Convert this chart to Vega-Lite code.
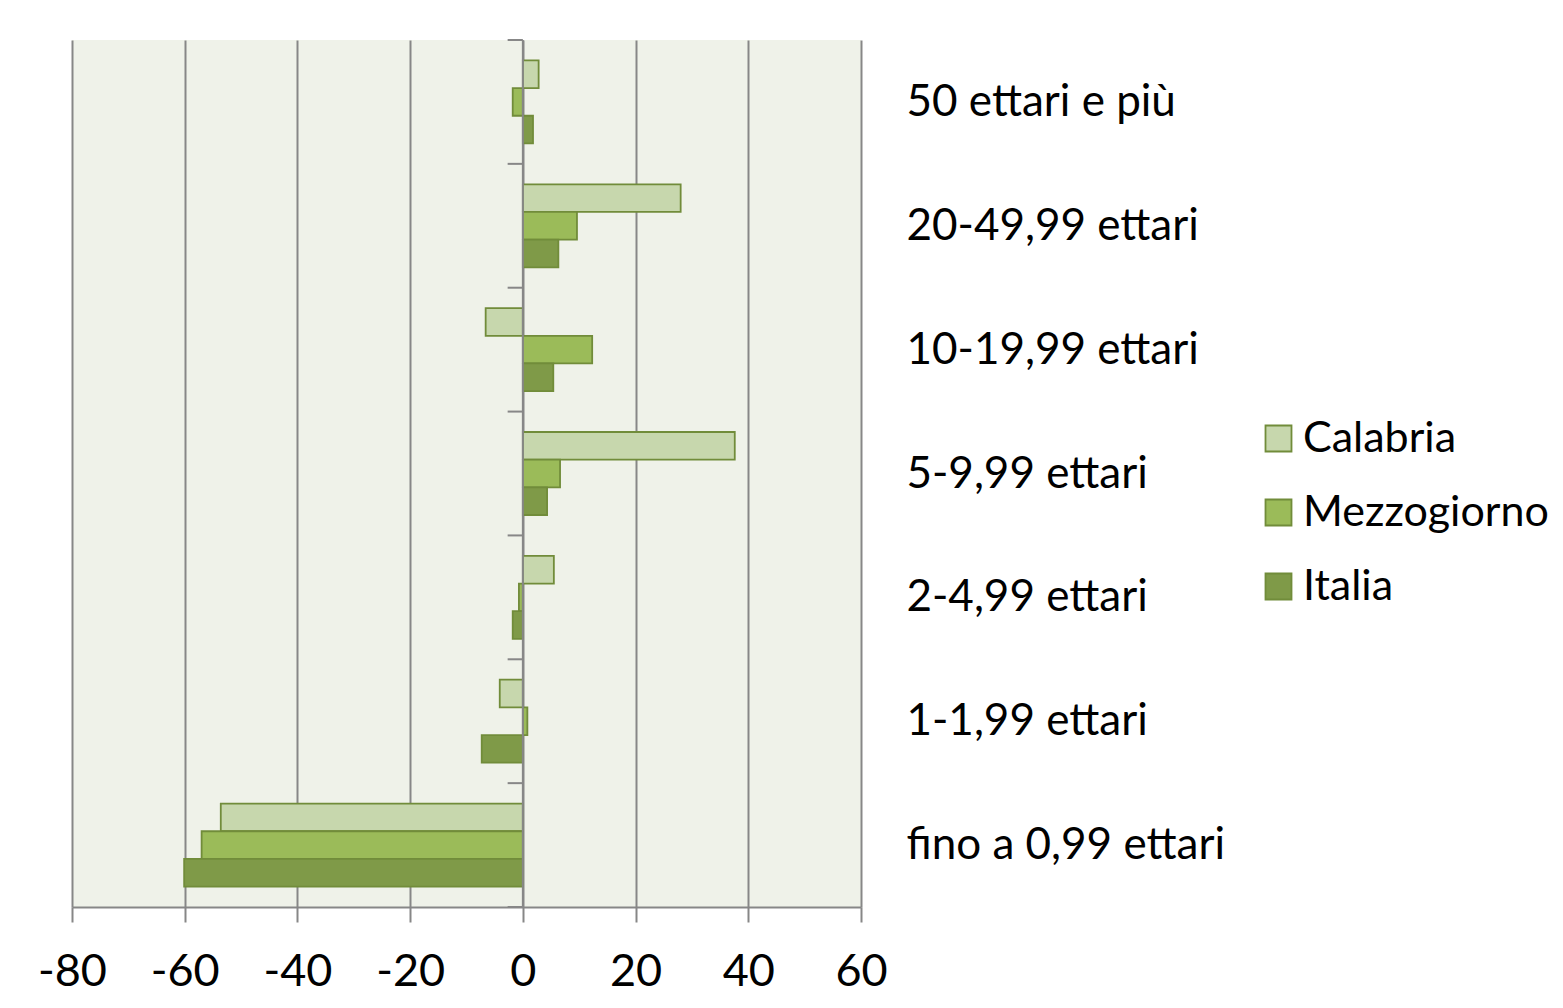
{
  "$schema": "https://vega.github.io/schema/vega-lite/v6.json",
  "width": 789,
  "height": 867,
  "autosize": {"type": "none"},
  "padding": {"left": 72, "top": 40, "right": 702, "bottom": 101},
  "background": "white",
  "config": {
    "view": {"fill": "#eff2e9", "stroke": null},
    "font": "Lato"
  },
  "datasets": {
    "bars": [
      {"cat": "50 ettari e più", "series": "Calabria", "value": 2.8},
      {"cat": "50 ettari e più", "series": "Mezzogiorno", "value": -1.8},
      {"cat": "50 ettari e più", "series": "Italia", "value": 1.8},
      {"cat": "20-49,99 ettari", "series": "Calabria", "value": 28.0},
      {"cat": "20-49,99 ettari", "series": "Mezzogiorno", "value": 9.6},
      {"cat": "20-49,99 ettari", "series": "Italia", "value": 6.3},
      {"cat": "10-19,99 ettari", "series": "Calabria", "value": -6.6},
      {"cat": "10-19,99 ettari", "series": "Mezzogiorno", "value": 12.3},
      {"cat": "10-19,99 ettari", "series": "Italia", "value": 5.4},
      {"cat": "5-9,99 ettari", "series": "Calabria", "value": 37.6},
      {"cat": "5-9,99 ettari", "series": "Mezzogiorno", "value": 6.6},
      {"cat": "5-9,99 ettari", "series": "Italia", "value": 4.3},
      {"cat": "2-4,99 ettari", "series": "Calabria", "value": 5.5},
      {"cat": "2-4,99 ettari", "series": "Mezzogiorno", "value": -0.7},
      {"cat": "2-4,99 ettari", "series": "Italia", "value": -1.8},
      {"cat": "1-1,99 ettari", "series": "Calabria", "value": -4.1},
      {"cat": "1-1,99 ettari", "series": "Mezzogiorno", "value": 0.8},
      {"cat": "1-1,99 ettari", "series": "Italia", "value": -7.3},
      {"cat": "fino a 0,99 ettari", "series": "Calabria", "value": -53.6},
      {"cat": "fino a 0,99 ettari", "series": "Mezzogiorno", "value": -57.0},
      {"cat": "fino a 0,99 ettari", "series": "Italia", "value": -60.1}
    ],
    "bounds": [
      {"b": 0}, {"b": 1}, {"b": 2}, {"b": 3}, {"b": 4}, {"b": 5}, {"b": 6}, {"b": 7}
    ],
    "zero": [{"x": 0}]
  },
  "resolve": {"scale": {"y": "independent"}},
  "layer": [
    {
      "data": {"name": "bars"},
      "mark": {"type": "bar", "stroke": "#718c3a", "strokeWidth": 1.8},
      "encoding": {
        "y": {
          "field": "cat",
          "type": "nominal",
          "sort": ["50 ettari e più", "20-49,99 ettari", "10-19,99 ettari", "5-9,99 ettari", "2-4,99 ettari", "1-1,99 ettari", "fino a 0,99 ettari"],
          "scale": {"paddingInner": 0.33, "paddingOuter": 0.165},
          "axis": {
            "orient": "right",
            "title": null,
            "domain": false,
            "ticks": false,
            "labelAlign": "left",
            "labelBaseline": "middle",
            "labelPadding": 45,
            "labelFontSize": 44,
            "labelColor": "#000000",
            "labelLimit": 600,
            "labelOffset": 1
          }
        },
        "yOffset": {
          "field": "series",
          "type": "nominal",
          "sort": ["Calabria", "Mezzogiorno", "Italia"],
          "scale": {"paddingInner": 0, "paddingOuter": 0}
        },
        "x": {
          "field": "value",
          "type": "quantitative",
          "scale": {"domain": [-80, 60], "nice": false, "zero": false},
          "axis": {
            "title": null,
            "values": [-80, -60, -40, -20, 0, 20, 40, 60],
            "labelExpr": "'' + datum.value",
            "grid": true,
            "gridColor": "#878787",
            "gridWidth": 2,
            "domainColor": "#878787",
            "domainWidth": 2,
            "tickColor": "#878787",
            "tickWidth": 2,
            "tickSize": 15,
            "labelFontSize": 45,
            "labelColor": "#000000",
            "labelBaseline": "alphabetic",
            "labelPadding": 63,
            "labelFlush": false
          }
        },
        "color": {
          "field": "series",
          "type": "nominal",
          "scale": {
            "domain": ["Calabria", "Mezzogiorno", "Italia"],
            "range": ["#c7d7ad", "#9bbb59", "#7f9a48"]
          },
          "legend": {
            "title": null,
            "orient": "none",
            "legendX": 1185,
            "legendY": 377,
            "symbolType": "square",
            "symbolSize": 676,
            "symbolStrokeColor": "#718c3a",
            "symbolStrokeWidth": 1.8,
            "symbolOpacity": 1,
            "labelFontSize": 43,
            "labelColor": "#000000",
            "labelOffset": 3,
            "rowPadding": 30,
            "labelLimit": 400
          }
        }
      }
    },
    {
      "data": {"name": "zero"},
      "mark": {"type": "rule", "color": "#878787", "strokeWidth": 2},
      "encoding": {
        "x": {"field": "x", "type": "quantitative"}
      }
    },
    {
      "data": {"name": "bounds"},
      "mark": {"type": "rule", "color": "#878787", "strokeWidth": 2},
      "encoding": {
        "y": {"field": "b", "type": "quantitative", "scale": {"domain": [0, 7], "reverse": true, "nice": false, "zero": false}, "axis": null},
        "x": {"datum": -2.7, "type": "quantitative"},
        "x2": {"datum": 0}
      }
    }
  ]
}
